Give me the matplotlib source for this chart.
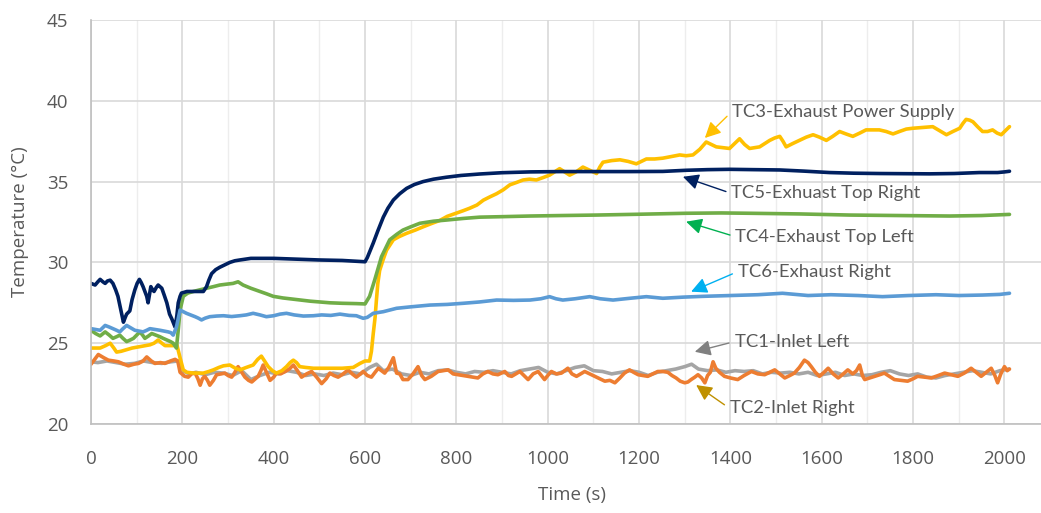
import matplotlib
matplotlib.use("Agg")
import matplotlib.pyplot as plt
from matplotlib.ticker import MultipleLocator

# (time s, temperature C)
tc1_pts = [(0, 23.85), (15, 23.8), (35, 23.9), (55, 23.8), (75, 23.7), (95, 23.75), (115, 23.9),
           (135, 23.8), (155, 23.75), (175, 23.85), (190, 23.9), (200, 23.3), (215, 23.1), (230, 23.2),
           (250, 23.05), (270, 23.2), (290, 23.15), (310, 23.0), (330, 23.3), (350, 22.75), (370, 23.0),
           (390, 23.2), (410, 23.1), (430, 23.3), (450, 23.2), (470, 23.0), (490, 23.1), (510, 23.0),
           (530, 23.15), (550, 23.05), (570, 23.2), (590, 23.1), (610, 23.5), (625, 23.7), (640, 23.3),
           (660, 23.4), (680, 23.1), (700, 23.0), (720, 23.2), (740, 23.1), (760, 23.3), (780, 23.35),
           (800, 23.2), (820, 23.1), (840, 23.25), (860, 23.2), (880, 23.3), (900, 23.2), (920, 23.1),
           (940, 23.3), (960, 23.4), (980, 23.5), (1000, 23.2), (1020, 23.1), (1040, 23.3), (1060, 23.5),
           (1080, 23.6), (1100, 23.3), (1120, 23.25), (1140, 23.1), (1160, 23.2), (1180, 23.3), (1200, 23.2),
           (1220, 23.0), (1240, 23.2), (1260, 23.3), (1280, 23.4), (1300, 23.55), (1315, 23.7), (1330, 23.4),
           (1350, 23.3), (1370, 23.35), (1390, 23.2), (1410, 23.3), (1430, 23.25), (1450, 23.3), (1470, 23.1),
           (1490, 23.2), (1510, 23.15), (1530, 23.2), (1550, 23.1), (1570, 23.2), (1590, 23.0), (1610, 23.1),
           (1630, 23.2), (1650, 23.0), (1670, 23.1), (1690, 23.0), (1710, 23.05), (1730, 23.2), (1750, 23.3),
           (1770, 23.1), (1790, 23.0), (1810, 23.1), (1830, 22.9), (1850, 22.85), (1870, 23.0), (1890, 23.1),
           (1910, 23.2), (1930, 23.3), (1950, 23.2), (1970, 23.1), (1990, 23.3), (2010, 23.4)]

tc2_pts = [(0, 23.7), (8, 24.0), (16, 24.3), (28, 24.1), (38, 23.95), (50, 23.9), (60, 23.85), (72, 23.7),
           (82, 23.6), (94, 23.7), (104, 23.75), (114, 23.9), (122, 24.15), (132, 23.9), (140, 23.75),
           (152, 23.8), (162, 23.75), (174, 23.9), (184, 24.0), (190, 23.9), (195, 23.2), (205, 22.95),
           (213, 22.9), (220, 23.1), (228, 23.15), (234, 22.8), (239, 22.4), (244, 22.8), (249, 22.95),
           (255, 22.7), (260, 22.4), (268, 22.7), (275, 23.05), (285, 23.1), (293, 23.15), (300, 23.0),
           (308, 22.9), (315, 23.2), (322, 23.55), (330, 23.2), (337, 22.9), (345, 22.7), (352, 22.6),
           (360, 22.8), (366, 22.95), (372, 23.3), (377, 23.65), (384, 23.2), (392, 22.7), (400, 22.9),
           (406, 23.15), (415, 23.1), (425, 23.25), (434, 23.4), (443, 23.65), (452, 23.3), (461, 22.9),
           (472, 23.1), (483, 23.25), (494, 22.9), (505, 22.5), (515, 22.8), (523, 23.15), (532, 23.0),
           (541, 22.9), (552, 23.1), (563, 23.35), (572, 23.1), (581, 22.9), (590, 23.1), (596, 23.25),
           (605, 23.0), (614, 22.9), (622, 23.2), (629, 23.45), (636, 23.3), (643, 23.15), (652, 23.5),
           (662, 24.1), (669, 23.15), (676, 23.1), (683, 22.75), (694, 22.75), (705, 23.1), (716, 23.55),
           (724, 23.0), (731, 22.75), (745, 22.95), (760, 23.25), (771, 23.3), (782, 23.35), (793, 23.1),
           (804, 23.05), (815, 23.0), (826, 22.95), (836, 22.9), (847, 22.85), (858, 23.1), (869, 23.25),
           (880, 23.1), (891, 23.05), (906, 23.25), (914, 23.0), (921, 22.95), (930, 23.1), (939, 23.25),
           (948, 23.0), (957, 22.75), (968, 23.1), (979, 23.25), (986, 23.0), (993, 22.75), (1000, 23.0),
           (1008, 23.25), (1019, 23.1), (1030, 23.15), (1044, 23.45), (1053, 23.1), (1063, 22.95),
           (1072, 23.1), (1081, 23.25), (1092, 23.1), (1103, 22.95), (1114, 22.8), (1125, 22.65),
           (1136, 22.7), (1147, 22.55), (1158, 22.85), (1168, 23.15), (1179, 23.35), (1188, 23.2),
           (1198, 23.05), (1208, 23.0), (1219, 22.95), (1230, 23.1), (1241, 23.25), (1252, 23.25),
           (1263, 23.2), (1272, 23.0), (1281, 22.85), (1290, 22.65), (1300, 22.55), (1307, 22.6),
           (1314, 22.75), (1322, 22.9), (1329, 23.05), (1337, 22.85), (1344, 22.55), (1350, 23.0),
           (1356, 23.2), (1362, 23.85), (1368, 23.45), (1376, 23.2), (1387, 22.95), (1400, 22.85),
           (1416, 22.75), (1430, 23.0), (1446, 23.25), (1460, 23.1), (1475, 23.05), (1486, 23.2),
           (1497, 23.35), (1508, 23.1), (1519, 22.85), (1530, 23.0), (1540, 23.15), (1551, 23.5),
           (1562, 23.95), (1570, 23.8), (1577, 23.55), (1586, 23.2), (1595, 22.95), (1605, 23.2),
           (1614, 23.45), (1625, 23.1), (1636, 22.85), (1647, 23.1), (1657, 23.35), (1668, 23.1),
           (1676, 23.3), (1683, 23.65), (1689, 23.0), (1694, 22.75), (1705, 22.85), (1716, 22.95),
           (1727, 23.05), (1737, 23.15), (1748, 22.95), (1759, 22.75), (1773, 22.7), (1788, 22.65),
           (1800, 22.8), (1810, 22.95), (1825, 22.9), (1840, 22.85), (1855, 23.0), (1869, 23.15),
           (1884, 23.05), (1898, 22.95), (1912, 23.15), (1927, 23.45), (1938, 23.2), (1949, 22.95),
           (1960, 23.2), (1971, 23.45), (1979, 23.0), (1985, 22.55), (1992, 23.1), (2000, 23.55),
           (2006, 23.3), (2011, 23.4)]

tc3_pts = [(0, 24.7), (10, 24.7), (20, 24.7), (32, 24.85), (42, 25.0), (50, 24.7), (56, 24.45), (66, 24.5),
           (78, 24.6), (90, 24.7), (100, 24.75), (110, 24.8), (120, 24.85), (129, 24.9), (138, 25.0),
           (147, 25.2), (155, 25.0), (162, 24.85), (172, 24.85), (180, 24.85), (188, 24.9), (195, 24.1),
           (202, 23.35), (210, 23.2), (225, 23.15), (246, 23.15), (258, 23.25), (268, 23.35), (280, 23.5),
           (290, 23.6), (304, 23.65), (316, 23.45), (326, 23.35), (340, 23.5), (355, 23.65), (365, 24.0),
           (373, 24.2), (380, 23.9), (388, 23.55), (397, 23.3), (406, 23.15), (418, 23.3), (428, 23.55),
           (436, 23.8), (443, 23.95), (450, 23.8), (457, 23.55), (470, 23.5), (487, 23.45), (510, 23.45),
           (530, 23.45), (550, 23.45), (574, 23.5), (589, 23.75), (600, 23.9), (610, 23.9), (614, 24.5),
           (618, 25.6), (622, 26.6), (625, 27.7), (628, 28.7), (632, 29.5), (640, 30.2), (647, 30.75),
           (655, 31.1), (662, 31.4), (675, 31.6), (691, 31.8), (710, 32.0), (727, 32.2), (745, 32.4),
           (764, 32.6), (780, 32.85), (800, 33.05), (815, 33.2), (829, 33.35), (845, 33.55), (859, 33.85),
           (873, 34.05), (888, 34.25), (903, 34.5), (917, 34.8), (932, 34.95), (946, 35.1), (960, 35.15),
           (975, 35.1), (990, 35.25), (1004, 35.4), (1015, 35.6), (1026, 35.8), (1037, 35.6), (1048, 35.4),
           (1062, 35.6), (1077, 35.9), (1092, 35.7), (1107, 35.5), (1114, 35.9), (1121, 36.2), (1140, 36.3),
           (1158, 36.35), (1176, 36.25), (1194, 36.1), (1205, 36.25), (1216, 36.4), (1234, 36.4),
           (1252, 36.45), (1270, 36.55), (1289, 36.65), (1303, 36.6), (1318, 36.65), (1333, 37.0),
           (1347, 37.45), (1358, 37.3), (1369, 37.15), (1383, 37.1), (1398, 37.05), (1409, 37.35),
           (1420, 37.65), (1431, 37.3), (1442, 37.05), (1453, 37.1), (1464, 37.15), (1475, 37.35),
           (1486, 37.55), (1497, 37.7), (1508, 37.8), (1515, 37.5), (1522, 37.15), (1536, 37.35),
           (1551, 37.55), (1566, 37.75), (1581, 37.9), (1595, 37.75), (1610, 37.55), (1624, 37.8),
           (1639, 38.1), (1653, 37.95), (1668, 37.8), (1683, 38.0), (1697, 38.2), (1712, 38.2), (1726, 38.2),
           (1741, 38.1), (1756, 37.95), (1770, 38.1), (1785, 38.25), (1799, 38.3), (1821, 38.35),
           (1843, 38.4), (1858, 38.15), (1873, 37.9), (1887, 38.1), (1902, 38.3), (1909, 38.6), (1916, 38.85),
           (1924, 38.8), (1931, 38.7), (1941, 38.4), (1952, 38.1), (1963, 38.1), (1974, 38.2), (1984, 38.0),
           (1993, 37.9), (2002, 38.15), (2011, 38.4)]

tc4_pts = [(0, 25.8), (10, 25.6), (20, 25.45), (31, 25.7), (40, 25.5), (48, 25.3), (56, 25.4), (63, 25.5),
           (70, 25.3), (78, 25.1), (86, 25.2), (93, 25.3), (100, 25.5), (107, 25.7), (113, 25.5), (118, 25.3),
           (126, 25.45), (133, 25.6), (142, 25.5), (151, 25.4), (158, 25.3), (166, 25.2), (174, 25.1),
           (180, 25.0), (187, 24.7), (191, 25.8), (195, 27.05), (202, 27.9), (212, 28.1), (224, 28.2),
           (238, 28.3), (253, 28.4), (268, 28.5), (282, 28.6), (296, 28.65), (311, 28.7), (322, 28.8),
           (333, 28.6), (350, 28.4), (370, 28.2), (385, 28.05), (399, 27.9), (420, 27.8), (450, 27.7),
           (480, 27.6), (523, 27.5), (550, 27.47), (581, 27.45), (600, 27.43), (610, 27.9), (621, 28.9),
           (636, 30.35), (654, 31.4), (670, 31.75), (683, 32.0), (700, 32.2), (720, 32.42), (750, 32.55),
           (778, 32.62), (815, 32.72), (851, 32.8), (900, 32.83), (961, 32.87), (1030, 32.9), (1107, 32.93),
           (1200, 32.98), (1303, 33.04), (1380, 33.06), (1442, 33.04), (1550, 33.0), (1661, 32.93),
           (1770, 32.9), (1880, 32.87), (1950, 32.9), (2011, 32.97)]

tc5_pts = [(0, 28.7), (9, 28.6), (15, 28.8), (20, 28.95), (26, 28.8), (31, 28.7), (36, 28.85), (42, 28.9),
           (48, 28.7), (54, 28.3), (59, 27.9), (65, 27.1), (71, 26.3), (75, 26.6), (78, 26.8), (85, 27.0),
           (90, 27.7), (96, 28.3), (101, 28.7), (106, 28.95), (110, 28.75), (114, 28.5), (118, 28.2),
           (122, 27.9), (125, 27.5), (128, 28.0), (131, 28.5), (135, 28.3), (138, 28.2), (143, 28.45),
           (147, 28.6), (151, 28.5), (155, 28.4), (160, 28.0), (166, 27.5), (172, 26.8), (177, 26.5),
           (184, 26.0), (188, 26.7), (191, 27.5), (195, 27.9), (198, 28.1), (210, 28.2), (225, 28.2),
           (246, 28.2), (253, 28.5), (258, 28.9), (264, 29.3), (273, 29.55), (282, 29.7), (293, 29.85),
           (304, 30.0), (315, 30.1), (326, 30.15), (350, 30.25), (400, 30.25), (450, 30.2), (500, 30.15),
           (550, 30.12), (600, 30.04), (605, 30.3), (618, 31.2), (628, 31.95), (640, 32.8), (650, 33.35),
           (662, 33.86), (676, 34.25), (691, 34.58), (708, 34.82), (727, 35.0), (750, 35.15), (778, 35.27),
           (810, 35.38), (851, 35.47), (900, 35.55), (961, 35.6), (1030, 35.62), (1107, 35.62),
           (1180, 35.62), (1252, 35.63), (1303, 35.7), (1350, 35.74), (1398, 35.76), (1450, 35.74),
           (1508, 35.72), (1560, 35.65), (1617, 35.56), (1670, 35.52), (1726, 35.5), (1780, 35.49),
           (1836, 35.48), (1890, 35.5), (1945, 35.56), (1985, 35.56), (2000, 35.6), (2011, 35.64)]

tc6_pts = [(0, 25.9), (10, 25.85), (20, 25.8), (31, 26.1), (40, 26.0), (48, 25.9), (56, 25.8), (63, 25.7),
           (70, 25.9), (78, 26.1), (87, 25.95), (96, 25.8), (105, 25.75), (114, 25.7), (122, 25.8),
           (129, 25.9), (140, 25.85), (151, 25.8), (160, 25.75), (169, 25.7), (175, 25.65), (180, 25.5),
           (187, 26.0), (195, 27.05), (202, 26.95), (209, 26.85), (218, 26.75), (228, 26.64), (235, 26.55),
           (242, 26.44), (250, 26.55), (260, 26.64), (275, 26.68), (290, 26.7), (308, 26.65), (326, 26.7),
           (340, 26.75), (355, 26.85), (370, 26.75), (384, 26.64), (400, 26.7), (414, 26.8), (428, 26.85),
           (445, 26.75), (465, 26.68), (487, 26.7), (505, 26.75), (525, 26.72), (545, 26.8), (565, 26.72),
           (581, 26.7), (596, 26.54), (605, 26.6), (618, 26.85), (640, 26.95), (669, 27.16), (700, 27.25),
           (742, 27.36), (780, 27.4), (815, 27.47), (850, 27.55), (888, 27.67), (925, 27.65), (961, 27.67),
           (985, 27.75), (1004, 27.88), (1018, 27.75), (1033, 27.67), (1060, 27.75), (1092, 27.88),
           (1115, 27.75), (1143, 27.67), (1180, 27.78), (1216, 27.88), (1252, 27.78), (1296, 27.85),
           (1340, 27.9), (1400, 27.95), (1460, 28.0), (1514, 28.09), (1570, 27.95), (1620, 28.0),
           (1680, 27.95), (1733, 27.88), (1790, 27.95), (1850, 28.0), (1900, 27.95), (1952, 27.98),
           (1990, 28.02), (2011, 28.09)]

series = [
    ("TC1-Inlet Left", tc1_pts, "#A5A5A5"),
    ("TC2-Inlet Right", tc2_pts, "#ED7D31"),
    ("TC3-Exhaust Power Supply", tc3_pts, "#FFC000"),
    ("TC4-Exhaust Top Left", tc4_pts, "#70AD47"),
    ("TC5-Exhuast Top Right", tc5_pts, "#002060"),
    ("TC6-Exhaust Right", tc6_pts, "#5B9BD5"),
]

# label text, arrow tip (t, T), text anchor (t, T), arrow colour
callouts = [
    ("TC3-Exhaust Power Supply", (1344, 37.7), (1403, 39.33), "#FFC000"),
    ("TC5-Exhuast Top Right", (1296, 35.3), (1402, 34.27), "#002060"),
    ("TC4-Exhaust Top Left", (1303, 32.52), (1411, 31.59), "#00B050"),
    ("TC6-Exhaust Right", (1314, 28.19), (1416, 29.43), "#00B0F0"),
    ("TC1-Inlet Left", (1322, 24.47), (1409, 25.1), "#808080"),
    ("TC2-Inlet Right", (1325, 22.41), (1398, 20.97), "#BF9000"),
]

W, H = 1041, 513
fig = plt.figure(figsize=(W / 100, H / 100), dpi=100)
ax = fig.add_axes([91 / W, (H - 424) / H, (W - 91) / W, (424 - 20) / H])

for name, pts, color in series:
    t = [p[0] for p in pts]
    v = [p[1] for p in pts]
    ax.plot(t, v, color=color, lw=2.6, solid_joinstyle="round", solid_capstyle="round")

ax.set_xlim(0, 2080)
ax.set_ylim(20, 45)
ax.xaxis.set_major_locator(MultipleLocator(200))
ax.xaxis.set_minor_locator(MultipleLocator(100))
ax.yaxis.set_major_locator(MultipleLocator(5))
ax.grid(which="major", color="#D9D9D9", lw=1.2, zorder=0)
ax.grid(which="minor", axis="x", color="#EDEDED", lw=1.0, zorder=0)
ax.set_axisbelow(True)
ax.tick_params(which="both", length=0)
ax.tick_params(axis="x", pad=18.5, labelsize=13.5, labelcolor="#595959")
ax.tick_params(axis="y", pad=16.5, labelsize=13.5, labelcolor="#595959")
for lab in ax.get_xticklabels() + ax.get_yticklabels():
    lab.set_family("Open Sans")
for side in ["top", "right"]:
    ax.spines[side].set_visible(False)
for side in ["left", "bottom"]:
    ax.spines[side].set_color("#BFBFBF")
    ax.spines[side].set_linewidth(1.2)

for text, tip, pos, color in callouts:
    ax.annotate(text, xy=tip, xytext=pos, ha="left", va="center",
                fontsize=13.3, family="Lato", color="#595959",
                arrowprops=dict(arrowstyle="-|>,head_length=0.6,head_width=0.3",
                                color=color, lw=1.0, mutation_scale=16,
                                shrinkA=2, shrinkB=0, relpos=(0, 0.5)))

fig.text(20 / W, 1 - 222 / H, "Temperature (°C)", rotation=90, ha="center", va="center",
         fontsize=13.5, family="Open Sans", color="#595959")
fig.text(572 / W, 1 - 495 / H, "Time (s)", ha="center", va="center",
         fontsize=13.5, family="Open Sans", color="#595959")

fig.savefig("out.png", dpi=100)
